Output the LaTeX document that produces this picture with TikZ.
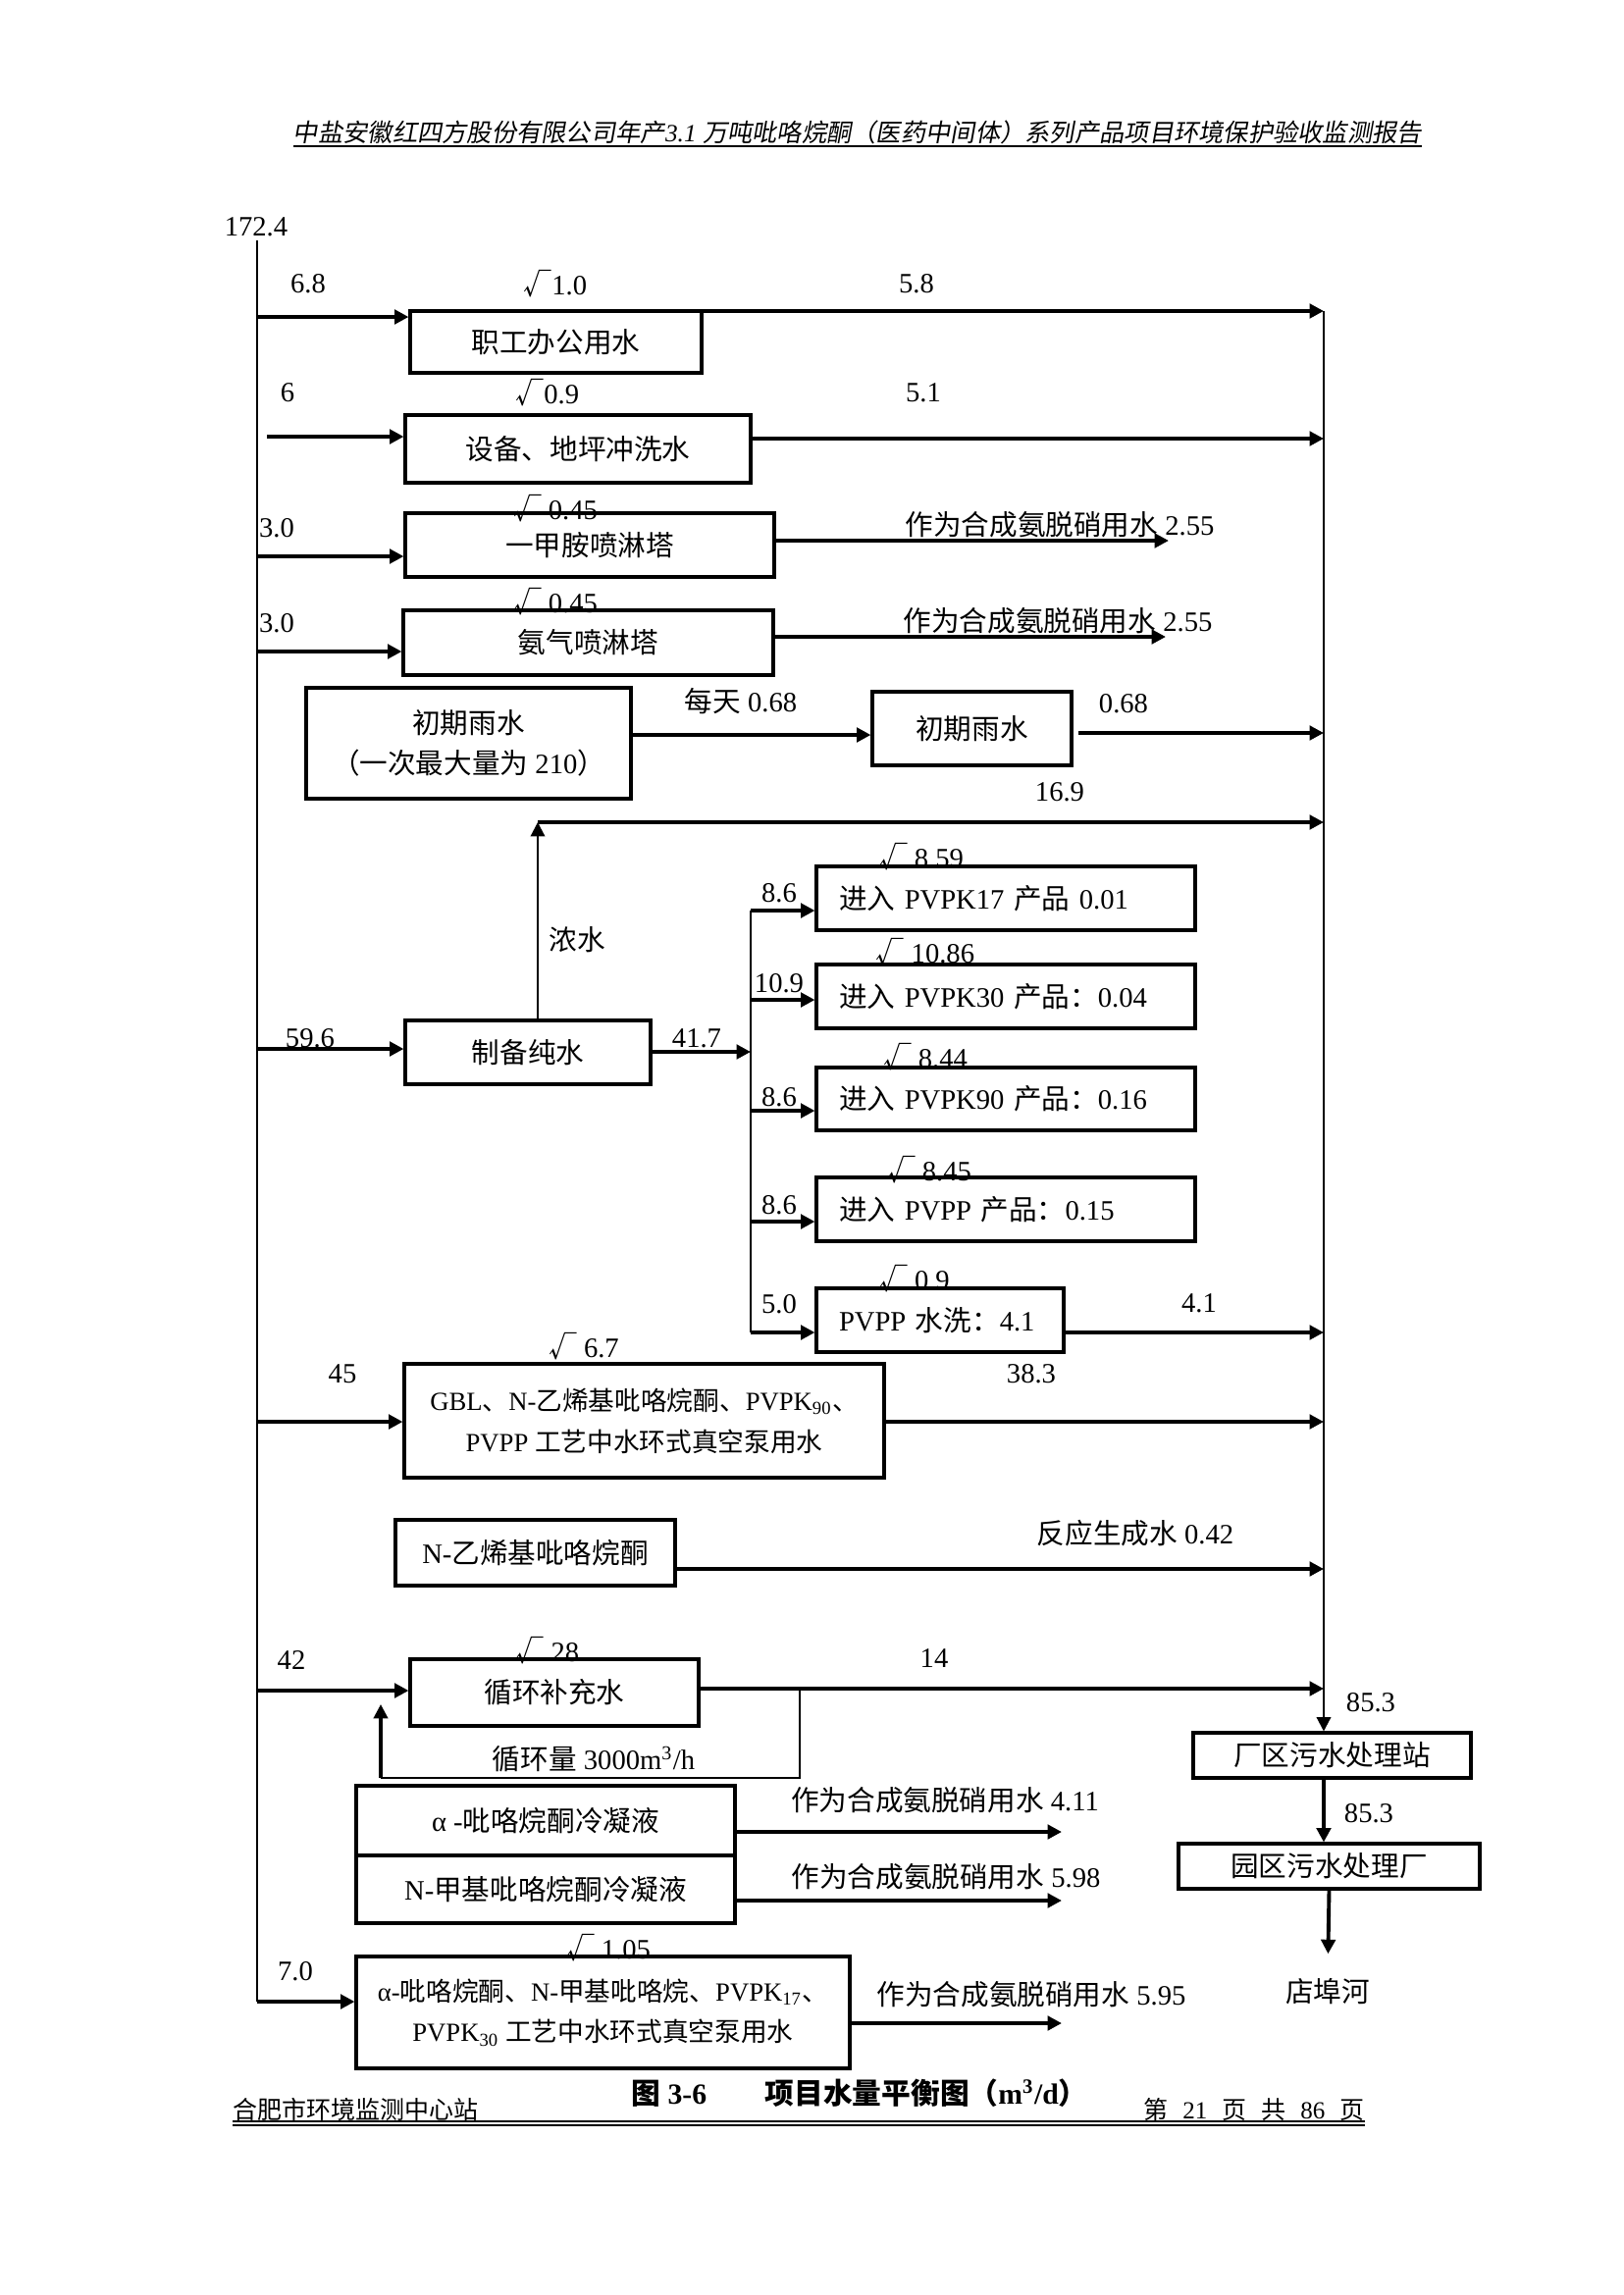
\documentclass[tikz,border=0pt]{standalone}
\usepackage{fontspec}
\setmainfont{Liberation Serif}
\newfontfamily\cj{Noto Sans CJK SC}
\newfontfamily\cjit{Noto Sans CJK SC}[FakeSlant=0.18]
\usetikzlibrary{arrows.meta}
\tikzset{
  px/.style={x=0.36pt,y=-0.36pt},
  box/.style={draw, line width=1.1pt, inner sep=0pt, align=center},
  sz/.style 2 args={minimum width=#1*0.36pt, minimum height=#2*0.36pt},
  lbl/.style={inner sep=0pt},
  ptxt/.style={text width=340*0.36pt, align=left},
  tip/.tip={Triangle[length=5.2pt,width=5.2pt]},
  arr/.style={line width=1.4pt, -tip},
  vline/.style={line width=0.8pt},
  every node/.style={font=\fontsize{10.3pt}{15pt}\selectfont},
  small/.style={font=\fontsize{9.6pt}{15pt}\selectfont},
}
\begin{document}
\begin{tikzpicture}[px]
\fill[white] (0,0) rectangle (1654,2339);
\useasboundingbox (0,0) rectangle (1654,2339);

% header
\node[lbl, font=\fontsize{9.1pt}{11pt}\selectfont] (hdr) at (874,135) {{\cjit 中盐安徽红四方股份有限公司年产}\textit{3.1} {\cjit 万吨吡咯烷酮（医药中间体）系列产品项目环境保护验收监测报告}};
\coordinate (h1) at (299,149); \coordinate (h2) at (1449,149);
\draw[line width=1pt] (h1) -- (h2);

% main lines
\coordinate (Ltop) at (262,245);
\coordinate (Lbot) at (262,2040);
\coordinate (R) at (1349,317);

% boxes
\node[box, sz={297}{63}] (b1) at (566.5,348.5) {\cj 职工办公用水};
\node[box, sz={352}{69}] (b2) at (589,457.5) {\cj 设备、地坪冲洗水};
\node[box, sz={376}{65}] (b3) at (601,555.5) {\cj 一甲胺喷淋塔};
\node[box, sz={377}{66}] (b4) at (599.5,655) {\cj 氨气喷淋塔};
\node[box, sz={331}{113}] (b5) at (477.5,757.5) {{\cj 初期雨水}\\{\cj （一次最大量为} 210{\cj ）}};
\node[box, sz={203}{75}] (b6) at (990.5,742.5) {\cj 初期雨水};
\node[box, sz={250}{65}] (b7) at (538,1072.5) {\cj 制备纯水};
\node[box, sz={386}{65}, ptxt] (p1) at (1025,915.5) {{\cj 进入} PVPK17 {\cj 产品} 0.01};
\node[box, sz={386}{65}, ptxt] (p2) at (1025,1015.5) {{\cj 进入} PVPK30 {\cj 产品：}0.04};
\node[box, sz={386}{64}, ptxt] (p3) at (1025,1120) {{\cj 进入} PVPK90 {\cj 产品：}0.16};
\node[box, sz={386}{65}, ptxt] (p4) at (1025,1232.5) {{\cj 进入} PVPP {\cj 产品：}0.15};
\node[box, sz={252}{65}, text width=206*0.36pt, align=left] (p5) at (958,1345.5) {PVPP {\cj 水洗：}4.1};
\node[box, small, sz={489}{116}] (b8) at (656.5,1448) {GBL{\cj 、}N-{\cj 乙烯基吡咯烷酮、}PVPK\textsubscript{90}{\cj 、}\\PVPP {\cj 工艺中水环式真空泵用水}};
\node[box, line width=1.5pt, sz={285}{67}] (b9) at (545.5,1582.5) {N-{\cj 乙烯基吡咯烷酮}};
\node[box, sz={294}{68}] (b10) at (565,1725) {\cj 循环补充水};
\node[box, sz={283}{46}] (b11) at (1357.5,1789) {\cj 厂区污水处理站};
\node[box, sz={307}{46}] (b12) at (1354.5,1902) {\cj 园区污水处理厂};
\node[box, line width=1.4pt, sz={386}{71}] (b13) at (556,1855.5) {α -{\cj 吡咯烷酮冷凝液}};
\node[box, line width=1.4pt, sz={386}{69}] (b14) at (556,1925.5) {N-{\cj 甲基吡咯烷酮冷凝液}};
\node[box, small, sz={503}{114}] (b15) at (614.5,2051) {α-{\cj 吡咯烷酮、}N-{\cj 甲基吡咯烷、}PVPK\textsubscript{17}{\cj 、}\\PVPK\textsubscript{30} {\cj 工艺中水环式真空泵用水}};
\node[lbl] (river) at (1353,2030) {\cj 店埠河};

% labels
\node[lbl] (t0) at (261,231) {172.4};
\node[lbl] (t1a) at (314,289) {6.8};
\node[lbl] (t1b) at (566,289) {{\cj √}1.0};
\node[lbl] (t1c) at (934,289) {5.8};
\node[lbl] (t2a) at (293,400) {6};
\node[lbl] (t2b) at (558,400) {{\cj √}0.9};
\node[lbl] (t2c) at (941,400) {5.1};
\node[lbl] (t3a) at (282,538) {3.0};
\node[lbl] (t3b) at (566,518) {{\cj √} 0.45};
\node[lbl] (t3c) at (1080,535) {{\cj 作为合成氨脱硝用水} 2.55};
\node[lbl] (t4a) at (282,635) {3.0};
\node[lbl] (t4b) at (566,613) {{\cj √} 0.45};
\node[lbl] (t4c) at (1078,633) {{\cj 作为合成氨脱硝用水} 2.55};
\node[lbl] (t5a) at (755,715) {{\cj 每天} 0.68};
\node[lbl] (t5b) at (1145,717) {0.68};
\node[lbl] (t6) at (1080,807) {16.9};
\node[lbl] (t7) at (588,958) {\cj 浓水};
\node[lbl] (t8) at (316,1058) {59.6};
\node[lbl] (t9) at (710,1058) {41.7};
\node[lbl] (q1a) at (794,910) {8.6};
\node[lbl] (q1b) at (939,873) {{\cj √} 8.59};
\node[lbl] (q2a) at (794,1002) {10.9};
\node[lbl] (q2b) at (943,970) {{\cj √} 10.86};
\node[lbl] (q3a) at (794,1118) {8.6};
\node[lbl] (q3b) at (943,1077) {{\cj √} 8.44};
\node[lbl] (q4a) at (794,1228) {8.6};
\node[lbl] (q4b) at (947,1192) {{\cj √} 8.45};
\node[lbl] (q5a) at (794,1329) {5.0};
\node[lbl] (q5b) at (932,1303) {{\cj √} 0.9};
\node[lbl] (q5c) at (1222,1328) {4.1};
\node[lbl] (t10a) at (349,1400) {45};
\node[lbl] (t10b) at (595,1372) {{\cj √} 6.7};
\node[lbl] (t10c) at (1051,1400) {38.3};
\node[lbl] (t11) at (1157,1563) {{\cj 反应生成水} 0.42};
\node[lbl] (t12a) at (297,1692) {42};
\node[lbl] (t12b) at (558,1682) {{\cj √} 28};
\node[lbl] (t12c) at (952,1690) {14};
\node[lbl] (t12d) at (605,1793) {{\cj 循环量} 3000m\textsuperscript{3}/h};
\node[lbl] (t13) at (1397,1735) {85.3};
\node[lbl] (t14) at (1395,1848) {85.3};
\node[lbl] (t15) at (963,1835) {{\cj 作为合成氨脱硝用水} 4.11};
\node[lbl] (t16) at (964,1913) {{\cj 作为合成氨脱硝用水} 5.98};
\node[lbl] (t17a) at (620,1985) {{\cj √} 1.05};
\node[lbl] (t17b) at (301,2009) {7.0};
\node[lbl] (t17c) at (1051,2033) {{\cj 作为合成氨脱硝用水} 5.95};

% caption and footer
\node[lbl, font=\fontsize{10.7pt}{13pt}\selectfont\bfseries] (cap) at (876,2133) {{\cj\bfseries 图} 3-6\hspace{2em}{\cj\bfseries 项目水量平衡图（}m\textsuperscript{3}/d{\cj\bfseries ）}};
\node[lbl, anchor=west, font=\fontsize{9pt}{11pt}\selectfont] (fl) at (237,2150) {\cj 合肥市环境监测中心站};
\node[lbl, anchor=east, font=\fontsize{9pt}{11pt}\selectfont] (fr) at (1391,2150) {{\cj 第}\hspace{0.6em}21\hspace{0.6em}{\cj 页}\hspace{0.6em}{\cj 共}\hspace{0.6em}86\hspace{0.6em}{\cj 页}};
\coordinate (f1) at (237,2162); \coordinate (f2) at (1391,2162);
\coordinate (f3) at (237,2166); \coordinate (f4) at (1391,2166);
\draw[line width=1pt] (f1) -- (f2);
\draw[line width=0.5pt] (f3) -- (f4);

% left supply line
\draw[vline] (Ltop) -- (Lbot);
\draw[arr] (Lbot) -- (Lbot -| b15.west);
% right collecting line
\draw[vline, -tip] (R) -- (R |- b11.north);

% row 1
\coordinate (i1) at (262,323); \draw[arr] (i1) -- (i1 -| b1.west);
\coordinate (o1) at (701,317); \draw[arr] (o1) -- (o1 -| R);
% row 2
\coordinate (i2) at (272,445); \draw[arr] (i2) -- (i2 -| b2.west);
\coordinate (o2) at (765,447); \draw[arr] (o2) -- (o2 -| R);
% row 3
\coordinate (i3) at (262,567); \draw[arr] (i3) -- (i3 -| b3.west);
\coordinate (o3) at (789,551); \coordinate (e3) at (1191,551); \draw[arr] (o3) -- (e3);
% row 4
\coordinate (i4) at (262,664); \draw[arr] (i4) -- (i4 -| b4.west);
\coordinate (o4) at (788,649); \coordinate (e4) at (1188,649); \draw[arr] (o4) -- (e4);
% rain water
\coordinate (o5) at (643,749); \draw[arr] (o5) -- (o5 -| b6.west);
\coordinate (o6) at (1099,747); \draw[arr] (o6) -- (o6 -| R);
% pure water
\coordinate (i7) at (262,1069); \draw[arr] (i7) -- (i7 -| b7.west);
\coordinate (c1) at (548,838);
\draw[vline, -tip] (c1 |- b7.north) -- (c1);
\draw[arr] (c1) -- (c1 -| R);
\coordinate (bx) at (765,928);
\coordinate (by) at (765,1358);
\coordinate (o7) at (663,1072); \draw[arr] (o7) -- (o7 -| bx);
\draw[vline] (bx) -- (by);
\coordinate (a2) at (765,1019); \coordinate (a3) at (765,1132); \coordinate (a4) at (765,1245);
\draw[arr] (bx) -- (bx -| p1.west);
\draw[arr] (a2) -- (a2 -| p2.west);
\draw[arr] (a3) -- (a3 -| p3.west);
\draw[arr] (a4) -- (a4 -| p4.west);
\draw[arr] (by) -- (by -| p5.west);
\coordinate (o9) at (1084,1358); \draw[arr] (o9) -- (o9 -| R);
% GBL
\coordinate (i10) at (262,1449); \draw[arr] (i10) -- (i10 -| b8.west);
\coordinate (o10) at (901,1449); \draw[arr] (o10) -- (o10 -| R);
% N-vinyl
\coordinate (o11) at (688,1599); \draw[arr] (o11) -- (o11 -| R);
% circulation
\coordinate (i12) at (262,1723); \draw[arr] (i12) -- (i12 -| b10.west);
\coordinate (o12) at (712,1721); \draw[arr] (o12) -- (o12 -| R);
\coordinate (lp1) at (815,1721); \coordinate (lp2) at (388,1812); \coordinate (lp3) at (388,1737);
\draw[line width=1pt] (lp1) -- (lp1 |- lp2) -- (lp2);
\draw[line width=1.1pt, -tip] (lp2) -- (lp3);
% treatment
\draw[arr] (R |- b11.south) -- (R |- b12.north);
\draw[arr, shorten >=9pt] (b12.south) -- (river.north);
% condensates
\coordinate (o13) at (749,1867); \coordinate (e13) at (1082,1867); \draw[arr] (o13) -- (e13);
\coordinate (o14) at (749,1937); \coordinate (e14) at (1082,1937); \draw[arr] (o14) -- (e14);
\coordinate (o15) at (866,2062); \coordinate (e15) at (1082,2062); \draw[arr] (o15) -- (e15);
\end{tikzpicture}
\end{document}
